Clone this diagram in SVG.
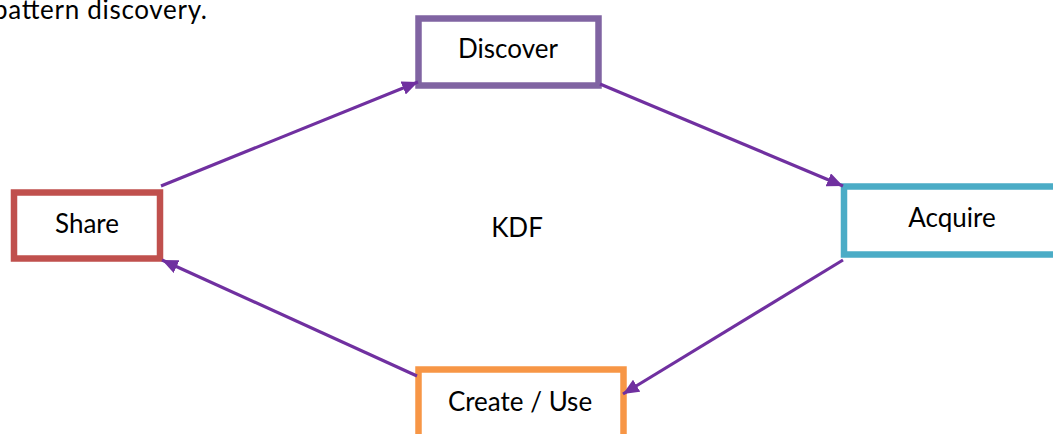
<svg xmlns="http://www.w3.org/2000/svg" width="1053" height="434" viewBox="0 0 1053 434">
<style>
text{font-family:Lato,"Open Sans","Liberation Sans",sans-serif;font-size:26px;fill:#000;}
.c{text-anchor:middle;}
.box{fill:#fff;stroke-width:6.5;}
.conn{stroke:#7030A0;stroke-width:3.2;fill:none;marker-end:url(#ah);}
</style>
<defs>
<marker id="ah" markerUnits="userSpaceOnUse" markerWidth="18" markerHeight="14" refX="16" refY="7" orient="auto" viewBox="0 0 18 14">
<path d="M0,0 L16,7 L0,14 Z" fill="#7030A0"/>
</marker>
</defs>
<rect width="1053" height="434" fill="#fff"/>
<text x="-7" y="19" font-size="27" textLength="214" lengthAdjust="spacing">pattern discovery.</text>
<g id="kdf"><text class="c" x="517" y="237">KDF</text></g>
<g id="discover">
<rect class="box" x="418.5" y="18.5" width="180" height="67" stroke="#8064A2"/>
<text class="c" x="508" y="58">Discover</text>
</g>
<g id="acquire">
<rect class="box" x="844" y="186.5" width="215" height="68" stroke="#4BACC6"/>
<text class="c" x="952" y="227">Acquire</text>
</g>
<g id="share">
<rect class="box" x="14" y="192.5" width="146" height="66" stroke="#C0504D"/>
<text class="c" x="87" y="233">Share</text>
</g>
<g id="create">
<rect class="box" x="418.5" y="369.5" width="205" height="80" stroke="#F79646"/>
<text class="c" x="520" y="411">Create / Use</text>
</g>
<g id="connectors">
<line class="conn" x1="161" y1="186" x2="418" y2="82"/>
<line class="conn" x1="600" y1="84" x2="843" y2="186"/>
<line class="conn" x1="843" y1="260" x2="623" y2="394"/>
<line class="conn" x1="417" y1="376" x2="162" y2="260"/>
</g>
</svg>
